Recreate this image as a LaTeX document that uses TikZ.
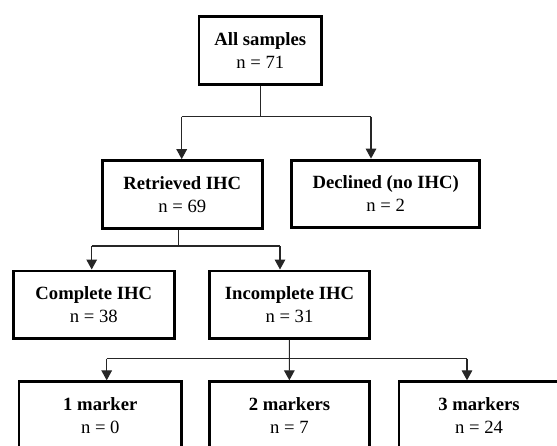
\documentclass[tikz,border=0pt]{standalone}
\usepackage{fontspec}
\setmainfont{Liberation Serif}
\usetikzlibrary{arrows.meta}

\begin{document}
\begin{tikzpicture}[x=0.75pt, y=-0.75pt,
    box/.style={draw=black, line width=2.2pt, minimum height=50.6pt, align=center, inner sep=2pt, font=\fontsize{14}{17.5}\selectfont},
    link/.style={black!85, line width=0.8pt},
    arr/.style={link, -{Triangle[width=8pt, length=7.5pt]}}]
    \useasboundingbox (0, 0) rectangle (557, 446);
    \node[box, minimum width=92pt] (all) at (260.3, 50.5) {\textbf{All samples}\\n = 71};
    \node[box, minimum width=120pt] (retr) at (182.3, 194.3) {\textbf{Retrieved IHC}\\n = 69};
    \node[box, minimum width=141pt] (decl) at (385.7, 193.8) {\textbf{Declined (no IHC)}\\n = 2};
    \node[box, minimum width=121pt] (comp) at (93.8, 304.7) {\textbf{Complete IHC}\\n = 38};
    \node[box, minimum width=120pt] (incomp) at (289.5, 304.7) {\textbf{Incomplete IHC}\\n = 31};
    \node[box, minimum width=122pt] (m1) at (100.3, 415.5) {\textbf{1 marker}\\n = 0};
    \node[box, minimum width=120pt] (m2) at (289.5, 415.5) {\textbf{2 markers}\\n = 7};
    \node[box, minimum width=120pt] (m3) at (479, 415.5) {\textbf{3 markers}\\n = 24};
    % all samples split
    \coordinate (s1) at (260.3, 116.7);
    \coordinate (s1l) at (181.7, 116.7);
    \coordinate (s1r) at (371, 116.7);
    \draw[link] (all) -- (s1);
    \draw[link] (s1l) -- (s1r);
    \draw[arr] (s1l) -- (s1l |- retr.north);
    \draw[arr] (s1r) -- (s1r |- decl.north);
    % retrieved split
    \coordinate (s2) at (178.3, 246);
    \coordinate (s2l) at (91.7, 246);
    \coordinate (s2r) at (280, 246);
    \draw[link] (s2 |- retr.south) -- (s2);
    \draw[link] (s2l) -- (s2r);
    \draw[arr] (s2l) -- (s2l |- comp.north);
    \draw[arr] (s2r) -- (s2r |- incomp.north);
    % incomplete split
    \coordinate (s3) at (289.3, 358.5);
    \coordinate (s3l) at (106.7, 358.5);
    \coordinate (s3r) at (467, 358.5);
    \draw[link] (incomp) -- (s3);
    \draw[link] (s3l) -- (s3r);
    \draw[arr] (s3l) -- (s3l |- m1.north);
    \draw[arr] (s3) -- (m2);
    \draw[arr] (s3r) -- (s3r |- m3.north);
\end{tikzpicture}
\end{document}
